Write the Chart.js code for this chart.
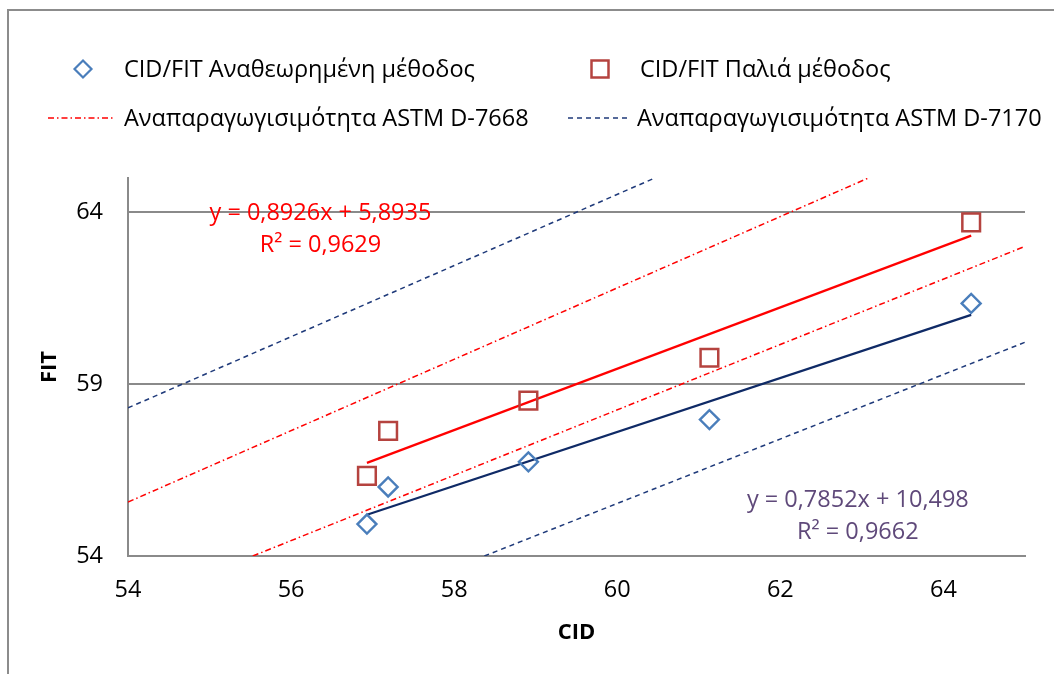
<!DOCTYPE html>
<html lang="el">
<head>
<meta charset="utf-8">
<title>CID / FIT</title>
<script src="https://cdn.jsdelivr.net/npm/chart.js@4.4.1/dist/chart.umd.min.js"></script>
<style>
    html, body {
        margin: 0;
        padding: 0;
        background: #ffffff;
    }

    #cidChart {
        display: block;
    }
</style>
</head>
<body>
<canvas id="cidChart" width="1054" height="674"></canvas>

<script>
'use strict';

// =========================================================
// DATA
// =========================================================

const cidValues = [56.93, 57.19, 58.91, 61.13, 64.34];
const fitRevised = [54.93, 56.01, 56.74, 57.97, 61.35];
const fitOld = [56.33, 57.64, 58.52, 59.77, 63.71];

// slope, intercept of the linear trendlines
const revisedTrend = [0.7852, 10.498];
const oldTrend = [0.8926, 5.8935];
const revisedR2 = '0,9662';
const oldR2 = '0,9629';

// reproducibility limits (start / end points)
const astm7668UpperX = [54, 63.08];
const astm7668UpperY = [55.57, 65];
const astm7668LowerX = [55.53, 65];
const astm7668LowerY = [54, 63.01];
const astm7170UpperX = [54, 60.46];
const astm7170UpperY = [58.31, 65];
const astm7170LowerX = [58.37, 65];
const astm7170LowerY = [54, 60.22];

const xTicks = [54, 56, 58, 60, 62, 64];
const yTicks = [54, 59, 64];

const seriesLabels = [
    'CID/FIT Αναθεωρημένη μέθοδος',
    'CID/FIT Παλιά μέθοδος',
    'Αναπαραγωγισιμότητα ASTM D-7668',
    'Αναπαραγωγισιμότητα ASTM D-7170',
];


// =========================================================
// STYLE
// =========================================================

const FONT = "'Open Sans', 'Noto Sans', sans-serif";
const BLUE_MARKER = '#4A7EBB';
const RED_MARKER = '#B5433F';
const RED_LINE = '#FF0000';
const NAVY_LINE = '#0F2A66';
const DASH_NAVY = '#1F3A7A';
const PURPLE_TEXT = '#5F497A';
const GRID_GRAY = '#8A8A8A';

const DASH_DOT = [6, 3, 1.5, 3];
const DASH = [5, 4];


// =========================================================
// HELPERS
// =========================================================

const toPoints = (xs, ys) => xs.map((x, index) => ({ x: x, y: ys[index] }));

const trendPoints = (coeffs) => {
    const first = Math.min(...cidValues);
    const last = Math.max(...cidValues);

    return [first, last].map((x) => ({ x: x, y: coeffs[0] * x + coeffs[1] }));
};

const formatNumber = (value) => String(value).replace('.', ',');

const equationText = (coeffs) => `y = ${formatNumber(coeffs[0])}x + ${formatNumber(coeffs[1])}`;

const limitLine = (points, color, dash) => ({
    data: points,
    showLine: true,
    borderColor: color,
    borderWidth: 1.5,
    borderDash: dash,
    pointRadius: 0,
    fill: false,
});


// =========================================================
// PLUGINS
// =========================================================

// outer chart frame, the right and bottom edges run off the page
const framePlugin = {
    id: 'frame',
    beforeDraw: (chart) => {
        const ctx = chart.ctx;

        ctx.save();
        ctx.fillStyle = '#ffffff';
        ctx.fillRect(0, 0, chart.width, chart.height);

        ctx.strokeStyle = '#8C8C8C';
        ctx.lineWidth = 2;
        ctx.beginPath();
        ctx.moveTo(8, chart.height + 2);
        ctx.lineTo(8, 10);
        ctx.lineTo(chart.width + 2, 10);
        ctx.stroke();
        ctx.restore();
    },
};

const legendLayout = [
    { marker: 'diamond', x: 83, y: 69, textX: 124, baseline: 77 },
    { marker: 'square', x: 600, y: 69, textX: 640, baseline: 77 },
    { marker: 'dashDot', x1: 48, x2: 115, y: 118, textX: 124, baseline: 126 },
    { marker: 'dash', x1: 568, x2: 629, y: 118, textX: 637, baseline: 126 },
];

const legendPlugin = {
    id: 'sideLegend',
    afterDraw: (chart) => {
        const ctx = chart.ctx;

        ctx.save();
        ctx.font = `23.5px ${FONT}`;
        ctx.textAlign = 'left';
        ctx.textBaseline = 'alphabetic';

        legendLayout.forEach((item, index) => {
            ctx.setLineDash([]);

            if (item.marker === 'diamond') {
                ctx.strokeStyle = BLUE_MARKER;
                ctx.lineWidth = 2.2;
                ctx.beginPath();
                ctx.moveTo(item.x - 8.5, item.y);
                ctx.lineTo(item.x, item.y - 8.5);
                ctx.lineTo(item.x + 8.5, item.y);
                ctx.lineTo(item.x, item.y + 8.5);
                ctx.closePath();
                ctx.stroke();
            }

            if (item.marker === 'square') {
                ctx.strokeStyle = RED_MARKER;
                ctx.lineWidth = 2.5;
                ctx.strokeRect(item.x - 8.5, item.y - 8.5, 17, 17);
            }

            if (item.marker === 'dashDot' || item.marker === 'dash') {
                ctx.strokeStyle = item.marker === 'dashDot' ? RED_LINE : DASH_NAVY;
                ctx.lineWidth = 1.5;
                ctx.setLineDash(item.marker === 'dashDot' ? DASH_DOT : DASH);
                ctx.beginPath();
                ctx.moveTo(item.x1, item.y);
                ctx.lineTo(item.x2, item.y);
                ctx.stroke();
            }

            ctx.fillStyle = '#000000';
            ctx.fillText(seriesLabels[index], item.textX, item.baseline);
        });

        ctx.restore();
    },
};

// equation + R² boxes, anchored in data units
const trendLabels = [
    { coeffs: oldTrend, r2: oldR2, x: 56.36, y: 63.78, color: RED_LINE },
    { coeffs: revisedTrend, r2: revisedR2, x: 62.95, y: 55.43, color: PURPLE_TEXT },
];

const trendLabelPlugin = {
    id: 'trendLabels',
    afterDatasetsDraw: (chart) => {
        const ctx = chart.ctx;
        const xScale = chart.scales.x;
        const yScale = chart.scales.y;

        ctx.save();
        ctx.font = `23.5px ${FONT}`;
        ctx.textAlign = 'center';
        ctx.textBaseline = 'alphabetic';

        trendLabels.forEach((label) => {
            const px = xScale.getPixelForValue(label.x);
            const py = yScale.getPixelForValue(label.y);

            ctx.fillStyle = label.color;
            ctx.fillText(equationText(label.coeffs), px, py);
            ctx.fillText(`R² = ${label.r2}`, px, py + 32);
        });

        ctx.restore();
    },
};


// =========================================================
// CHART
// =========================================================

const renderChart = () => {
    const canvas = document.querySelector('#cidChart');

    Chart.defaults.font.family = FONT;
    Chart.defaults.color = '#000000';

    new Chart(canvas, {
        type: 'scatter',
        data: {
            datasets: [
                {
                    label: seriesLabels[0],
                    data: toPoints(cidValues, fitRevised),
                    pointStyle: 'rectRot',
                    pointRadius: 9.5,
                    borderWidth: 2.4,
                    borderColor: BLUE_MARKER,
                    backgroundColor: 'rgba(255, 255, 255, 0)',
                },
                {
                    label: seriesLabels[1],
                    data: toPoints(cidValues, fitOld),
                    pointStyle: 'rect',
                    pointRadius: 12.5,
                    borderWidth: 2.5,
                    borderColor: RED_MARKER,
                    backgroundColor: 'rgba(255, 255, 255, 0)',
                },
                {
                    label: 'trend old',
                    data: trendPoints(oldTrend),
                    showLine: true,
                    borderColor: RED_LINE,
                    borderWidth: 2.2,
                    pointRadius: 0,
                },
                {
                    label: 'trend revised',
                    data: trendPoints(revisedTrend),
                    showLine: true,
                    borderColor: NAVY_LINE,
                    borderWidth: 2.2,
                    pointRadius: 0,
                },
                limitLine(toPoints(astm7668UpperX, astm7668UpperY), RED_LINE, DASH_DOT),
                limitLine(toPoints(astm7668LowerX, astm7668LowerY), RED_LINE, DASH_DOT),
                limitLine(toPoints(astm7170UpperX, astm7170UpperY), DASH_NAVY, DASH),
                limitLine(toPoints(astm7170LowerX, astm7170LowerY), DASH_NAVY, DASH),
            ],
        },
        options: {
            responsive: false,
            animation: false,
            events: [],

            layout: {
                padding: { top: 178, right: 29, bottom: 0, left: 0 },
            },

            plugins: {
                legend: { display: false },
                tooltip: { enabled: false },
            },

            scales: {
                x: {
                    type: 'linear',
                    min: 54,
                    max: 65,
                    afterBuildTicks: (scale) => {
                        scale.ticks = xTicks.map((value) => ({ value: value }));
                    },
                    afterFit: (scale) => {
                        scale.height = 118;
                    },
                    grid: {
                        drawOnChartArea: false,
                        drawTicks: false,
                    },
                    border: {
                        display: true,
                        color: GRID_GRAY,
                        width: 2,
                    },
                    ticks: {
                        padding: 20,
                        color: '#000000',
                        font: { size: 23.5 },
                    },
                    title: {
                        display: true,
                        text: 'CID',
                        color: '#000000',
                        font: { size: 22, weight: 'bold' },
                        padding: { top: 0, bottom: 28 },
                    },
                },
                y: {
                    type: 'linear',
                    min: 54,
                    max: 65,
                    afterBuildTicks: (scale) => {
                        scale.ticks = yTicks.map((value) => ({ value: value }));
                    },
                    afterFit: (scale) => {
                        scale.width = 128;
                    },
                    grid: {
                        color: GRID_GRAY,
                        lineWidth: 2,
                        drawTicks: false,
                    },
                    border: {
                        display: true,
                        color: GRID_GRAY,
                        width: 2,
                    },
                    ticks: {
                        padding: 25,
                        color: '#000000',
                        font: { size: 23.5 },
                    },
                    title: {
                        display: true,
                        text: 'FIT',
                        color: '#000000',
                        font: { size: 22, weight: 'bold' },
                        padding: { top: 37, bottom: 0 },
                    },
                },
            },
        },
        plugins: [framePlugin, legendPlugin, trendLabelPlugin],
    });
};

document.addEventListener('DOMContentLoaded', renderChart);
</script>
</body>
</html>
